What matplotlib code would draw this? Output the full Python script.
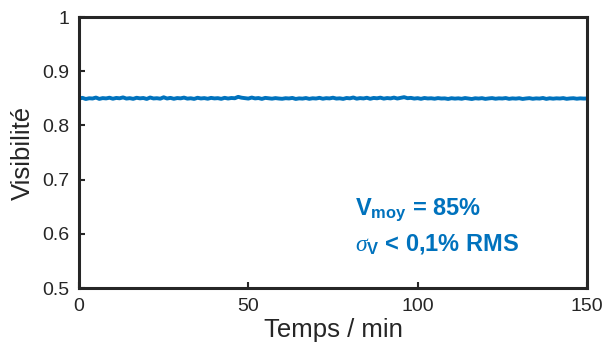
import matplotlib
matplotlib.use('Agg')
import matplotlib.pyplot as plt

plt.rcParams['font.family'] = ['Liberation Sans', 'DejaVu Sans']
plt.rcParams['mathtext.fontset'] = 'custom'
plt.rcParams['mathtext.rm'] = 'Liberation Sans'
plt.rcParams['mathtext.bf'] = 'Liberation Sans:bold'
plt.rcParams['mathtext.it'] = 'Liberation Serif:italic'

# temps en minutes (une mesure par minute)
temps = list(range(0, 151))
visibilite = [
    0.8495, 0.8510, 0.8488, 0.8502, 0.8497, 0.8515, 0.8490, 0.8505, 0.8499, 0.8512,
    0.8493, 0.8508, 0.8501, 0.8518, 0.8496, 0.8504, 0.8491, 0.8511, 0.8500, 0.8507,
    0.8489, 0.8516, 0.8498, 0.8503, 0.8494, 0.8520, 0.8497, 0.8509, 0.8492, 0.8506,
    0.8500, 0.8514, 0.8495, 0.8502, 0.8490, 0.8511, 0.8498, 0.8505, 0.8493, 0.8509,
    0.8499, 0.8504, 0.8491, 0.8510, 0.8497, 0.8507, 0.8502, 0.8528, 0.8512, 0.8503,
    0.8496, 0.8515, 0.8499, 0.8506, 0.8490, 0.8509, 0.8501, 0.8494, 0.8505, 0.8497,
    0.8492, 0.8503, 0.8498, 0.8508, 0.8489, 0.8500, 0.8495, 0.8506, 0.8491, 0.8502,
    0.8497, 0.8510, 0.8493, 0.8504, 0.8499, 0.8512, 0.8496, 0.8501, 0.8490, 0.8507,
    0.8500, 0.8516, 0.8494, 0.8505, 0.8498, 0.8511, 0.8492, 0.8508, 0.8501, 0.8513,
    0.8495, 0.8506, 0.8499, 0.8514, 0.8497, 0.8510, 0.8522, 0.8503, 0.8509, 0.8496,
    0.8504, 0.8491, 0.8507, 0.8498, 0.8502, 0.8493, 0.8505, 0.8497, 0.8500, 0.8489,
    0.8503, 0.8495, 0.8501, 0.8492, 0.8506, 0.8498, 0.8488, 0.8502, 0.8496, 0.8504,
    0.8490, 0.8499, 0.8505, 0.8493, 0.8501, 0.8497, 0.8506, 0.8491, 0.8500, 0.8495,
    0.8503, 0.8489, 0.8498, 0.8504, 0.8492, 0.8500, 0.8496, 0.8507, 0.8490, 0.8502,
    0.8494, 0.8501, 0.8497, 0.8505, 0.8491, 0.8499, 0.8503, 0.8493, 0.8500, 0.8496,
    0.8498,
]
xticks = [0, 50, 100, 150]
yticks = [0.5, 0.6, 0.7, 0.8, 0.9, 1.0]
ytick_labels = ['0.5', '0.6', '0.7', '0.8', '0.9', '1']

bleu = '#0072BD'

fig = plt.figure(figsize=(6.05, 3.56), dpi=100)
ax = fig.add_axes([0.1306, 0.191, 0.8396, 0.761])

ax.plot(temps, visibilite, color=bleu, linewidth=2.8)

ax.set_xlim(0, 150)
ax.set_ylim(0.5, 1)
ax.set_xticks(xticks)
ax.set_yticks(yticks)
ax.set_yticklabels(ytick_labels)
ax.tick_params(direction='in', length=4, width=1.5, labelsize=14,
               colors='#262626', pad=7)
for s in ax.spines.values():
    s.set_linewidth(2.2)
    s.set_color('#262626')

ax.set_xlabel('Temps / min', fontsize=18.5, color='#262626', labelpad=2)
ax.set_ylabel('Visibilité', fontsize=18.5, color='#262626', labelpad=5)

ax.text(0.543, 0.27, r'V$_{\mathbf{moy}}$ = 85%', transform=ax.transAxes,
        color=bleu, fontsize=17, fontweight='bold')
ax.text(0.543, 0.14, r'$\mathit{\sigma}_{\mathbf{V}}$ < 0,1% RMS', transform=ax.transAxes,
        color=bleu, fontsize=17, fontweight='bold')

fig.savefig('out.png', dpi=100)
